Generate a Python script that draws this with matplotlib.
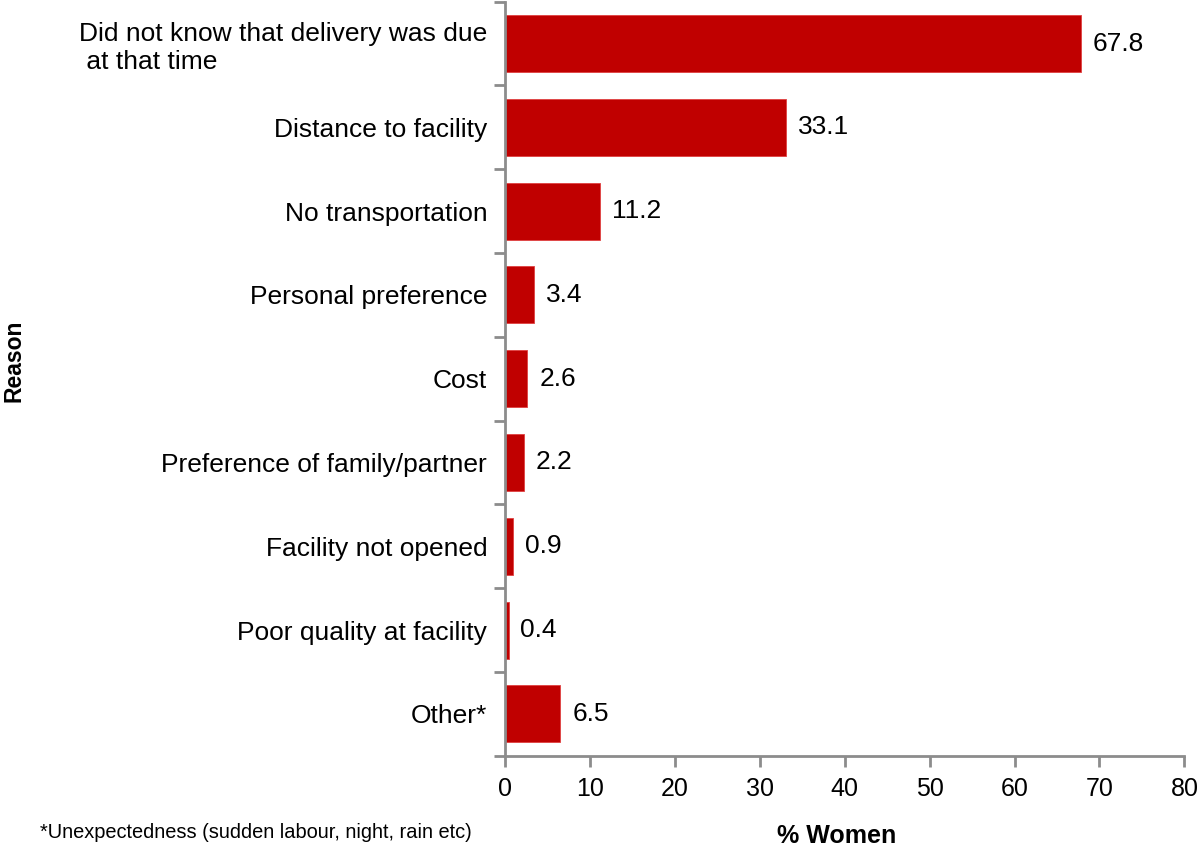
import matplotlib
matplotlib.use("Agg")
import matplotlib.pyplot as plt
import numpy as np

# === Data ===
reasons = [
    "Did not know that delivery was due\n at that time",
    "Distance to facility",
    "No transportation",
    "Personal preference",
    "Cost",
    "Preference of family/partner",
    "Facility not opened",
    "Poor quality at facility",
    "Other*",
]
pct_women = [67.8, 33.1, 11.2, 3.4, 2.6, 2.2, 0.9, 0.4, 6.5]
x_ticks = [0, 10, 20, 30, 40, 50, 60, 70, 80]

plt.rcParams['font.family'] = ['Liberation Sans', 'DejaVu Sans']
axis_grey = '#8c8c8c'

fig = plt.figure(figsize=(12, 8.52), dpi=100)
ax = fig.add_axes([0.421, 0.113, 0.566, 0.885])

y = np.arange(len(reasons))
ax.barh(y, pct_women, height=0.68, color='#c00000', edgecolor='#e04040', linewidth=0.6)
ax.set_ylim(len(reasons) - 0.5, -0.5)
ax.set_xlim(0, 80)

# value labels
for yi, v in zip(y, pct_women):
    ax.text(v + 1.4, yi, f"{v}", va='center', ha='left', fontsize=19)

# y axis: labels at bar centres, ticks on category boundaries
ax.set_yticks(y)
ax.set_yticklabels(reasons, fontsize=19)
ax.get_yticklabels()[0].set_multialignment('left')
ax.tick_params(axis='y', which='major', length=0, pad=13)
ax.set_yticks(np.arange(-0.5, len(reasons), 1), minor=True)
ax.tick_params(axis='y', which='minor', length=8, width=2, color=axis_grey, direction='out')

ax.set_xticks(x_ticks)
ax.set_xticklabels([str(t) for t in x_ticks], fontsize=18)
ax.tick_params(axis='x', length=8, width=2, color=axis_grey, direction='out', pad=7)

for side in ['top', 'right']:
    ax.spines[side].set_visible(False)
for side in ['left', 'bottom']:
    ax.spines[side].set_color(axis_grey)
    ax.spines[side].set_linewidth(2)

fig.text(0.012, 0.577, "Reason", rotation=90, fontsize=16.5, fontweight='bold', va='center', ha='center')
fig.text(0.697, 0.019, "% Women", fontsize=18, fontweight='bold', va='center', ha='center')
fig.text(0.033, 0.023, "*Unexpectedness (sudden labour, night, rain etc)", fontsize=14.4, va='center', ha='left')

fig.savefig("out.png", dpi=100)
